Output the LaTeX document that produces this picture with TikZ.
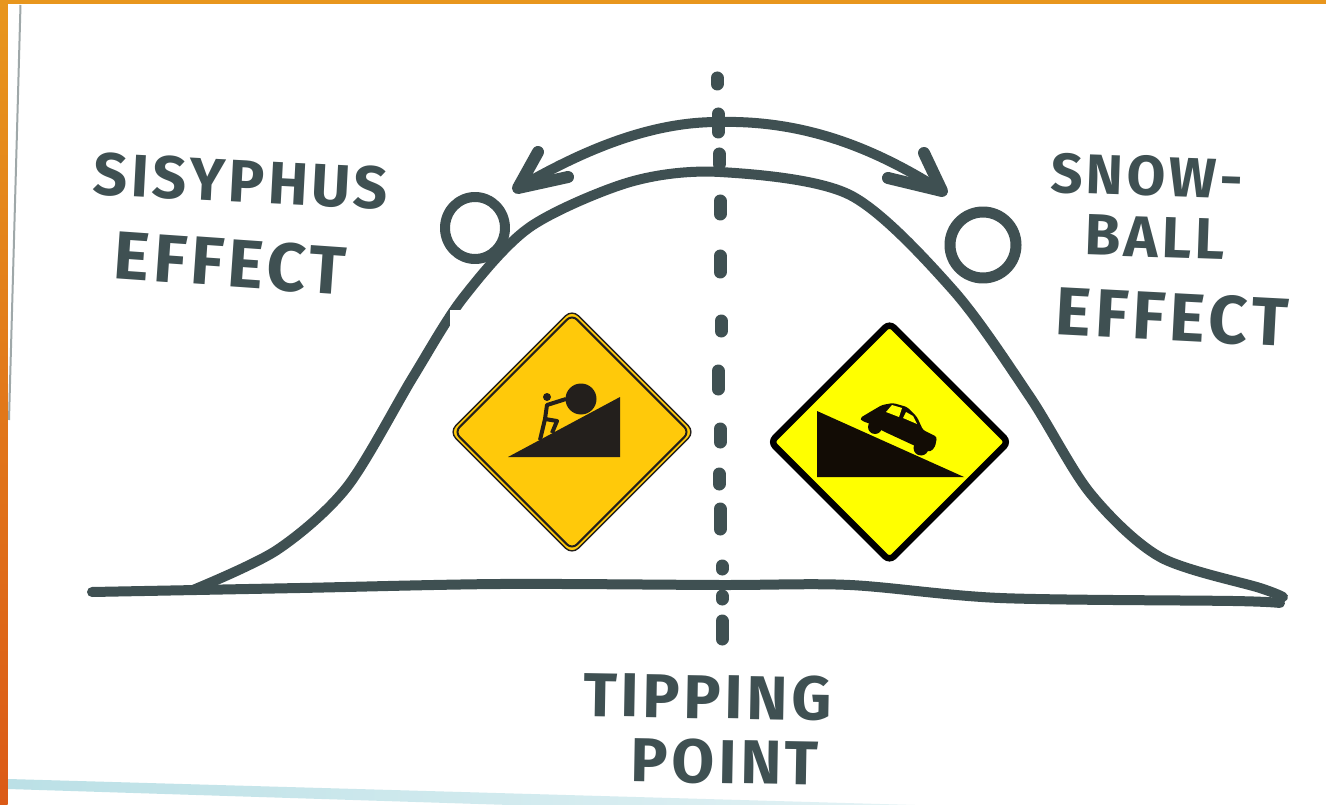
\documentclass[tikz,border=0pt]{standalone}
\usepackage{fontspec}
\usepackage{xcolor}
\setmainfont{Fira Sans}
\newfontfamily\sketchfont[LetterSpace=6]{Fira Sans}
\definecolor{marker}{HTML}{3F5052}
\definecolor{signgold}{HTML}{FFC90A}
\definecolor{signyellow}{HTML}{FFFF00}
\definecolor{signblack}{HTML}{231F1C}
\definecolor{signdark}{HTML}{120C05}
\definecolor{frametop}{HTML}{E8961D}
\definecolor{framebottom}{HTML}{DB5A17}
\definecolor{streak}{HTML}{BBE0E6}
\tikzset{
    pen/.style={draw=marker, line width=10pt, line cap=round, line join=round},
    tick/.style={draw=marker, line width=13pt, line cap=round},
    sketch/.style={text=marker, inner sep=0pt, font=\sketchfont\bfseries\fontsize{#1}{#1}\selectfont},
}
\begin{document}
\begin{tikzpicture}[x=1pt, y=-1pt]
        \useasboundingbox (0, 0) rectangle (1326, 805);
        \fill[white] (0, 0) rectangle (1326, 805);

        \fill[frametop] (0, 0) rectangle (1326, 4.5);
        \shade[top color=frametop, bottom color=framebottom] (0, 0) rectangle (7.5, 805);
        \draw[marker!50, line width=2pt] (20.5, 5) -- (9, 420);
        \shade[left color=streak, right color=streak!40] (8, 779) -- (915, 805) -- (510, 805) -- (8, 789) -- cycle;

        \coordinate (topleft) at (518, 188);
        \coordinate (topmid) at (718, 122);
        \coordinate (topright) at (942, 191);

        \foreach \x/\ya/\yb in {717/78/84, 718/114/132, 719/154/164, 720/201/214, 720/256/272, 721/321/331,
                                718/371/389, 720/429/442, 719/474/484, 720/509/529, 722/566/569, 722/596/599, 722/621/639}
            \draw[tick] (\x, \ya) -- (\x, \yb);

        \draw[pen] (topleft) .. controls (590, 146) and (655, 122) .. (topmid)
            .. controls (800, 120) and (870, 145) .. (topright);
        \draw[pen, line width=12pt] (538, 152) -- (topleft) -- (568, 177);
        \draw[pen, line width=12pt] (924, 153) -- (topright) -- (888, 178);

        \draw[pen] plot[smooth] coordinates {(193, 590) (277, 550) (347, 487) (413, 377) (463, 298) (530, 227)
            (630, 182) (720, 172) (850, 195) (953, 290) (1030, 397) (1090, 493) (1160, 557) (1260, 588) (1283, 597)};
        \draw[pen] plot[smooth, tension=0.5] coordinates {(92, 592) (300, 588) (500, 584) (720, 585) (850, 585)
            (1000, 598) (1233, 601) (1280, 603)};

        \draw[pen, line width=10pt] (475, 228) ellipse (30 and 31);
        \draw[pen, line width=11pt] (983, 245) ellipse (33 and 33);

        \fill[white] (450, 310) rectangle (692, 552);

        \node[sketch=60, rotate=-3] (sisyphus) at (241, 181) {SISYPHUS};
        \node[sketch=68, rotate=-4] (effectleft) at (230, 263) {EFFECT};
        \node[sketch=56, rotate=-2] (snow) at (1147, 176) {SNOW-};
        \node[sketch=58, rotate=-2] (ball) at (1155, 237) {BALL};
        \node[sketch=68, rotate=-3] (effectright) at (1172, 317) {EFFECT};
        \node[sketch=62, rotate=-1] (tipping) at (708, 697) {TIPPING};
        \node[sketch=62, rotate=-1] (point) at (725, 762) {POINT};

        \draw[signblack, fill=signgold, line width=1.4pt, rounded corners=9pt] (449.4, 432) -- (572, 309.4) -- (694.6, 432) -- (572, 554.6) -- cycle;
        \draw[signblack, line width=2pt, rounded corners=7pt] (454.6, 432) -- (572, 314.6) -- (689.4, 432) -- (572, 549.4) -- cycle;
        \fill[signblack] (508, 457) -- (620, 397) -- (620, 457) -- cycle;
        \fill[signblack] (581, 399) circle[radius=15.5];
        \fill[signblack] (547, 397) circle[radius=4];
        \draw[signblack, line width=4pt, line join=round] (566, 399) -- (547, 405) -- (545, 419) -- (557, 421) -- (552, 433);
        \draw[signblack, line width=4pt] (545, 419) -- (540, 440);

        \draw[black, fill=signyellow, line width=6.5pt, rounded corners=6pt] (770.75, 442) -- (889.5, 323.25) -- (1008.25, 442) -- (889.5, 560.75) -- cycle;
        \fill[signdark] (817, 411) -- (964, 477) -- (817, 477) -- cycle;
        \fill[signdark, rounded corners=2.5pt] (860, 418) -- (870, 412) -- (882, 405) -- (893, 403) -- (907, 407) -- (917, 417) -- (923, 430)
            -- (937, 437) -- (935, 447) -- (930, 452) -- (913, 445) -- (885, 432) -- (868, 423) -- (862, 421) -- cycle;
        \fill[signyellow] (886, 412) -- (892, 405) -- (902, 408) -- (899, 417) -- cycle;
        \fill[signyellow] (903, 418) -- (906, 412) -- (913, 416) -- (917, 424) -- cycle;
        \fill[signdark] (875, 427) circle[radius=7];
        \fill[signdark] (921, 448) circle[radius=7.5];
    \end{tikzpicture}
\end{document}
